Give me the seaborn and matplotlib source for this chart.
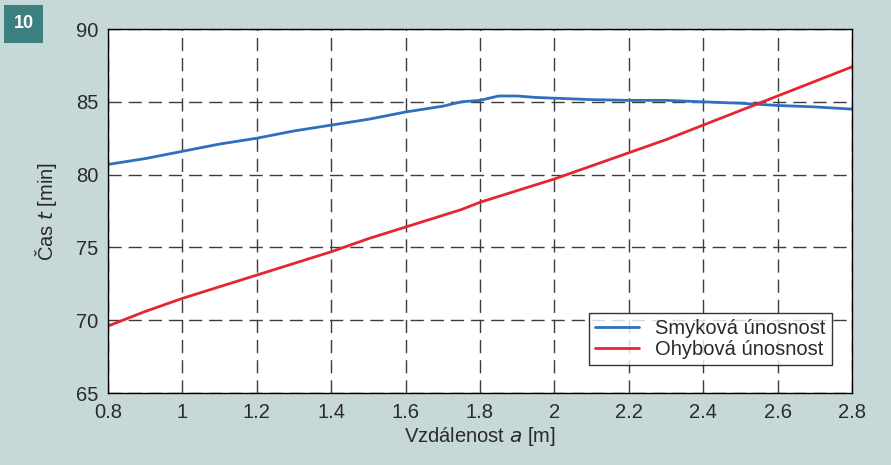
import numpy as np
import pandas as pd
import matplotlib
matplotlib.use("Agg")
import matplotlib.pyplot as plt
from matplotlib.patches import Rectangle
import seaborn as sns

# Distance a [m]
distance = [0.8, 0.9, 1.0, 1.1, 1.2, 1.3, 1.4, 1.5, 1.6, 1.7, 1.75, 1.8, 1.85,
            1.9, 1.95, 2.0, 2.1, 2.2, 2.3, 2.4, 2.5, 2.6, 2.7, 2.8]
# Time t [min] for shear capacity
shear_time = [80.7, 81.1, 81.6, 82.1, 82.5, 83.0, 83.4, 83.8, 84.3, 84.7, 85.0,
              85.1, 85.4, 85.4, 85.3, 85.25, 85.15, 85.1, 85.1, 85.0, 84.9,
              84.75, 84.65, 84.5]
# Time t [min] for bending capacity
bending_time = [69.6, 70.6, 71.5, 72.3, 73.1, 73.9, 74.7, 75.6, 76.4, 77.2, 77.6,
                78.1, 78.5, 78.9, 79.3, 79.7, 80.6, 81.5, 82.4, 83.4, 84.4,
                85.4, 86.4, 87.4]

series_names = ["Smyková únosnost", "Ohybová únosnost"]
x_ticks = [0.8, 1.0, 1.2, 1.4, 1.6, 1.8, 2.0, 2.2, 2.4, 2.6, 2.8]
x_tick_labels = ["0.8", "1", "1.2", "1.4", "1.6", "1.8", "2", "2.2", "2.4", "2.6", "2.8"]
y_ticks = [65, 70, 75, 80, 85, 90]

bg = "#c6d9d8"
txt = "#2a2a2a"
sns.set_theme(style="white")
plt.rcParams["font.family"] = ["Liberation Sans", "DejaVu Sans"]

df = pd.DataFrame({
    "a": distance * 2,
    "t": shear_time + bending_time,
    "série": [series_names[0]] * len(distance) + [series_names[1]] * len(distance),
})

fig = plt.figure(figsize=(8.91, 4.65), dpi=100, facecolor=bg)
ax = fig.add_axes([0.1212, 0.1548, 0.8350, 0.7828])
ax.set_facecolor("white")

sns.lineplot(data=df, x="a", y="t", hue="série",
             palette=["#2e6fbf", "#e52630"], linewidth=2.0, ax=ax)

ax.set_xlim(0.8, 2.8)
ax.set_ylim(65, 90)
ax.set_xticks(x_ticks)
ax.set_xticklabels(x_tick_labels)
ax.set_yticks(y_ticks)
ax.tick_params(axis="both", direction="in", length=5, width=0.8, color="black",
               labelsize=14.5, labelcolor=txt, pad=7)
ax.grid(True, color="#3c3c3c", linestyle=(0, (9.5, 5)), linewidth=1.0)
for s in ax.spines.values():
    s.set_color("black")
    s.set_linewidth(1.0)

ax.set_xlabel("Vzdálenost $\\it{a}$ [m]", fontsize=14.5, color=txt, labelpad=2)
ax.set_ylabel("Čas $\\it{t}$ [min]", fontsize=14.5, color=txt, labelpad=12)

leg = ax.legend(loc="lower right", bbox_to_anchor=(0.973, 0.077), fontsize=14.5,
                frameon=True, fancybox=False, handlelength=2.2,
                borderpad=0.3, labelspacing=0.1, handletextpad=0.8,
                borderaxespad=0)
leg.get_frame().set_edgecolor("black")
leg.get_frame().set_linewidth(1.0)
for t in leg.get_texts():
    t.set_color(txt)

# Figure number badge
fig.patches.append(Rectangle((4 / 891, 1 - 43 / 465), 39 / 891, 38 / 465,
                             transform=fig.transFigure, facecolor="#3b7f7e",
                             edgecolor="none"))
fig.text(23.5 / 891, 1 - 23.5 / 465, "10", color="white", fontsize=13,
         fontweight="bold", ha="center", va="center")

fig.savefig("out.png", dpi=100, facecolor=bg)
